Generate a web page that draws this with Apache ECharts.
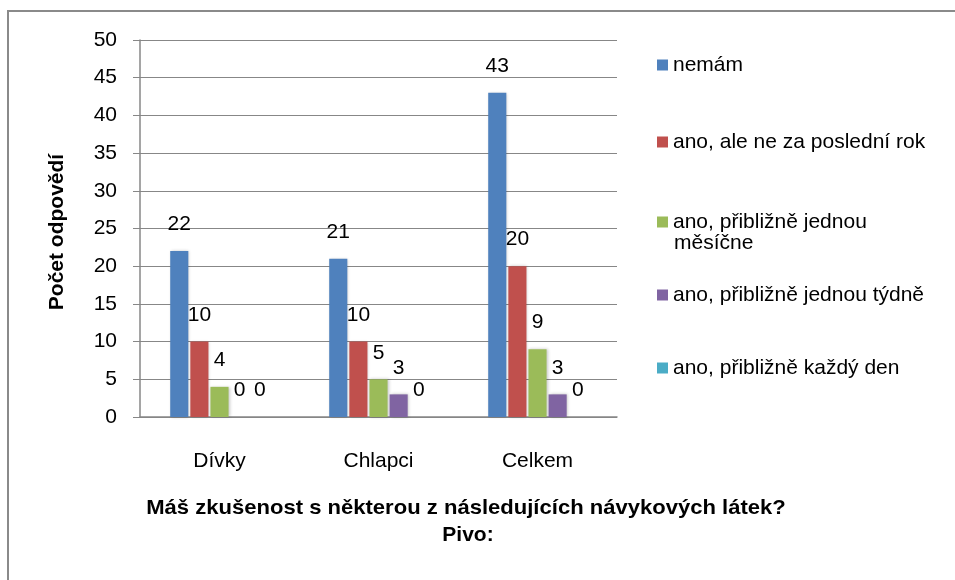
<!DOCTYPE html>
<html>
<head>
<meta charset="utf-8">
<script src="https://cdn.jsdelivr.net/npm/echarts@6/dist/echarts.min.js"></script>
<style>
  html, body { margin: 0; padding: 0; background: #fff; }
  #chart { width: 955px; height: 580px; }
</style>
</head>
<body>
<div id="chart"></div>
<script>
// data
var categories = ['Dívky', 'Chlapci', 'Celkem'];
var seriesNames = [
  'nemám',
  'ano, ale ne za poslední rok',
  'ano, přibližně jednou měsíčne',
  'ano, přibližně jednou týdně',
  'ano, přibližně každý den'
];
var nemam = [22, 21, 43];
var aleNeZaRok = [10, 10, 20];
var jednouMesicne = [4, 5, 9];
var jednouTydne = [0, 3, 3];
var kazdyDen = [0, 0, 0];
var yTicks = [0, 5, 10, 15, 20, 25, 30, 35, 40, 45, 50];

var colors = ['#4F81BD', '#C0504D', '#9BBB59', '#8064A2', '#4BACC6'];
var values = [nemam, aleNeZaRok, jednouMesicne, jednouTydne, kazdyDen];
var FONT = '"Liberation Sans", Arial, sans-serif';

var chart = echarts.init(document.getElementById('chart'));

var series = seriesNames.map(function (name, i) {
  return {
    name: name,
    type: 'bar',
    data: values[i],
    barGap: '11%',
    barCategoryGap: '38%',
    itemStyle: {
      color: colors[i],
      shadowColor: 'rgba(0,0,0,0.22)',
      shadowBlur: 3,
      shadowOffsetX: 1,
      shadowOffsetY: 0
    },
    label: {
      show: true,
      position: 'top',
      distance: 16,
      color: '#000',
      fontFamily: FONT,
      fontSize: 21
    }
  };
});

// one legend per entry, placed like the original
var legendCenters = [60, 137, 217, 290, 363];
var legends = seriesNames.map(function (name, i) {
  return {
    data: [name],
    left: 652,
    top: legendCenters[i] - 11,
    orient: 'vertical',
    icon: 'rect',
    itemWidth: 11,
    itemHeight: 11,
    itemGap: 0,
    selectedMode: false,
    formatter: function (n) {
      return n === 'ano, přibližně jednou měsíčne' ? 'ano, přibližně jednou' : n;
    },
    textStyle: { color: '#000', fontFamily: FONT, fontSize: 21, lineHeight: 22, padding: [0, 0, 0, 0] }
  };
});

chart.setOption({
  animation: false,
  color: colors,
  grid: { left: 140, right: 338, top: 40, bottom: 163 },
  legend: legends,
  xAxis: {
    type: 'category',
    data: categories,
    axisLine: { lineStyle: { color: '#878787', width: 1.5 } },
    axisTick: { show: false },
    axisLabel: { color: '#000', fontFamily: FONT, fontSize: 21, margin: 34 }
  },
  yAxis: {
    type: 'value',
    min: 0,
    max: 50,
    interval: 5,
    axisLine: { show: true, lineStyle: { color: '#878787', width: 1.5 } },
    axisTick: { show: true, length: 7, lineStyle: { color: '#878787' } },
    axisLabel: {
      color: '#000', fontFamily: FONT, fontSize: 21, margin: 23,
      formatter: function (v) { return yTicks.indexOf(v) >= 0 ? String(v) : ''; }
    },
    splitLine: { lineStyle: { color: '#878787', width: 1 } }
  },
  graphic: [
    {
      type: 'rect',
      silent: true,
      shape: { x: 8, y: 11, width: 1000, height: 700 },
      style: { fill: 'none', stroke: '#8a8a8a', lineWidth: 2 }
    },
    {
      type: 'text',
      x: 57, y: 232,
      rotation: Math.PI / 2,
      style: {
        text: 'Počet odpovědí', fill: '#000', font: 'bold 21px ' + FONT,
        align: 'center', verticalAlign: 'middle'
      }
    },
    {
      type: 'text',
      x: 466, y: 508,
      scaleX: 1.05,
      style: {
        text: 'Máš zkušenost s některou z následujících návykových látek?',
        fill: '#000', font: 'bold 21px ' + FONT,
        align: 'center', verticalAlign: 'middle'
      }
    },
    {
      type: 'text',
      x: 468, y: 535,
      style: {
        text: 'Pivo:', fill: '#000', font: 'bold 21px ' + FONT,
        align: 'center', verticalAlign: 'middle'
      }
    },
    {
      type: 'text',
      x: 674, y: 243,
      style: {
        text: 'měsíčne', fill: '#000', font: '21px ' + FONT,
        align: 'left', verticalAlign: 'middle'
      }
    }
  ],
  series: series
});
</script>
</body>
</html>
